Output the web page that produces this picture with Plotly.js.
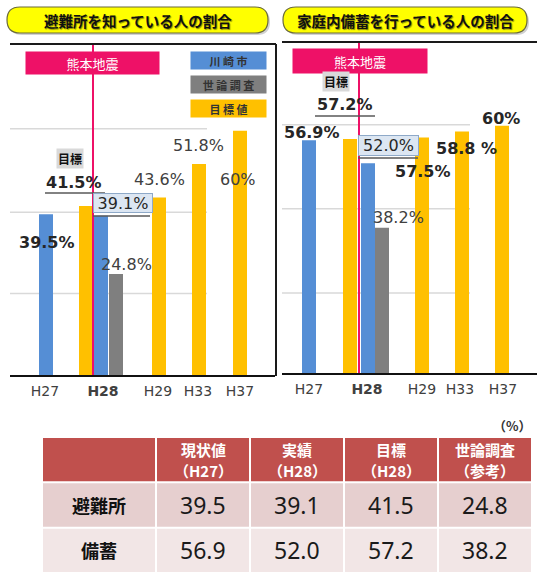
<!DOCTYPE html>
<html><head><meta charset="utf-8">
<script src="https://cdn.plot.ly/plotly-3.0.1.min.js"></script>
<style>html,body{margin:0;padding:0;background:#fff;}</style>
</head><body><div id="chart" style="width:537px;height:572px;"></div>
<script>
// ---------- DATA ----------
const years = ['H27','H28','H29','H33','H37'];
const chartTitles = ['避難所を知っている人の割合','家庭内備蓄を行っている人の割合'];
const legendNames = ['川崎市','世論調査','目標値'];
// 避難所を知っている人の割合 (%)
const shelterActual = [39.5, 39.1];            // 川崎市 H27, H28
const shelterSurvey = [24.8];                  // 世論調査 H28
const shelterTarget = [41.5, 43.6, 51.8, 60];  // 目標値 H28, H29, H33, H37
// 家庭内備蓄を行っている人の割合 (%)
const stockActual = [56.9, 52.0];
const stockSurvey = [38.2];
const stockTarget = [57.2, 57.5, 58.8, 60];
const eventLabel = '熊本地震';
const targetTag = '目標';
const tableHeaders = [['現状値','（H27）'],['実績','（H28）'],['目標','（H28）'],['世論調査','（参考）']];
const rowNames = ['避難所','備蓄'];
const unitLabel = '（%）';

// ---------- LAYOUT HELPERS ----------
const W = 537, H = 572;
const px = x => x / W;
const py = y => 1 - y / H;
const fmt = v => (v % 10 === 0 ? String(v) : v.toFixed(1)) + '%';
const BLUE = '#558ED5', GRAY = '#7F7F7F', ORANGE = '#FFC000';
const RED = '#EE1167';
const LBL = '#404040';
const NUMFONT = 'DejaVu Sans';
const JP = 'Noto Sans CJK JP';

const panels = [
  {xa:'x', ya:'y', left:10, right:275, top:44, bottom:375, yr:[0,81.3], xr:265,
   pos:{actual:[36,91], survey:[106], target:[76,149,189,230]}, ticks:[35,93,148,188,230],
   grid:[20,40,60.5], gridEnd:207, quake:93,
   data:{actual:shelterActual, survey:shelterSurvey, target:shelterTarget}},
  {xa:'x2', ya:'y2', left:282, right:537, top:42, bottom:373, yr:[7.2,77.9], xr:255,
   pos:{actual:[27,86], survey:[100], target:[68,140,180,220]}, ticks:[27,85,140,178,221],
   grid:[24.3,42.3,60.2], gridEnd:470, quake:359,
   data:{actual:stockActual, survey:stockSurvey, target:stockTarget}}
];

const traces = [];
const shapes = [];
const annotations = [];
const layout = {
  width: W, height: H, margin:{l:0,r:0,t:0,b:0},
  paper_bgcolor:'#fff', plot_bgcolor:'rgba(0,0,0,0)',
  showlegend:false, barmode:'overlay', font:{family:NUMFONT}
};

panels.forEach((p, i) => {
  const sfx = i === 0 ? '' : '2';
  const tickText = years.map(t => t === 'H28' ? '<b>' + t + '</b>' : t);
  layout['xaxis' + sfx] = {
    domain:[px(p.left), px(p.right)], range:[0, p.xr], anchor:p.ya,
    tickmode:'array', tickvals:p.ticks, ticktext:tickText,
    tickfont:{size:14, color:LBL, family:NUMFONT}, ticks:'', ticklabelstandoff:2,
    showline:true, linecolor:'#111', linewidth:2, showgrid:false, zeroline:false, fixedrange:true
  };
  layout['yaxis' + sfx] = {
    domain:[py(p.bottom), py(p.top)], range:p.yr, anchor:p.xa,
    visible:false, showgrid:false, zeroline:false, fixedrange:true
  };
  const series = [['actual', BLUE], ['survey', GRAY], ['target', ORANGE]];
  series.forEach(([k, c]) => {
    traces.push({type:'bar', x:p.pos[k], y:p.data[k], width:14, xaxis:p.xa, yaxis:p.ya,
      marker:{color:c, line:{width:0}}, hoverinfo:'skip'});
  });
  p.grid.forEach(g => shapes.push({type:'line', layer:'below', xref:'paper', yref:p.ya,
    x0:px(p.left), x1:px(p.gridEnd), y0:g, y1:g, line:{color:'#D9D9D9', width:1.5}}));
  shapes.push({type:'line', xref:'paper', yref:'paper', x0:px(p.quake), x1:px(p.quake),
    y0:py(p.top), y1:py(p.bottom), line:{color:RED, width:2}});
});

// panel borders
shapes.push({type:'line', xref:'paper', yref:'paper', x0:px(10), x1:px(276), y0:py(44), y1:py(44), line:{color:'#1a1a1a', width:2}});
shapes.push({type:'line', xref:'paper', yref:'paper', x0:px(276), x1:px(276), y0:py(44), y1:py(376), line:{color:'#1a1a1a', width:2}});
shapes.push({type:'line', xref:'paper', yref:'paper', x0:px(282), x1:px(537), y0:py(42), y1:py(42), line:{color:'#1a1a1a', width:2}});

// title pills
function pill(x0, y0, x1, y1, fill, line) {
  const r = (y1 - y0) / 2;
  const P = (x, y) => px(x).toFixed(5) + ',' + py(y).toFixed(5);
  const path = 'M' + P(x0 + r, y0) + ' L' + P(x1 - r, y0) + ' Q' + P(x1, y0) + ' ' + P(x1, y0 + r) +
    ' Q' + P(x1, y1) + ' ' + P(x1 - r, y1) + ' L' + P(x0 + r, y1) + ' Q' + P(x0, y1) + ' ' + P(x0, y0 + r) +
    ' Q' + P(x0, y0) + ' ' + P(x0 + r, y0) + ' Z';
  return {type:'path', xref:'paper', yref:'paper', path:path, fillcolor:fill, line:line};
}
[[7,268],[283,527]].forEach(([a, b], i) => {
  shapes.push(pill(a + 2, 9, b + 2, 35, 'rgba(0,0,0,0.18)', {width:0}));
  shapes.push(pill(a, 7, b, 33, '#FFFF00', {color:'#6b6b3a', width:1.2}));
  annotations.push({xref:'paper', yref:'paper', x:px((a + b) / 2), y:py(20.5), xanchor:'center', yanchor:'middle',
    showarrow:false, text:'<b>' + chartTitles[i] + '</b>',
    font:{family:JP, size:14.5, color:'#111', shadow:'1px 1px 1px rgba(0,0,0,0.45)'}});
});

function ann(text, x, y, o) {
  o = o || {};
  annotations.push(Object.assign({xref:'paper', yref:'paper', x:px(x), y:py(y), xanchor:'center', yanchor:'middle',
    showarrow:false, text:text, font:{family:NUMFONT, size:16, color:LBL}}, o));
}
function uline(x0, x1, y) {
  shapes.push({type:'line', xref:'paper', yref:'paper', x0:px(x0), x1:px(x1), y0:py(y), y1:py(y), line:{color:'#595959', width:1.5}});
}
const bold = s => '<b>' + s + '</b>';
const boldFont = {family:NUMFONT, size:16, color:'#262626'};

// quake label boxes
ann(eventLabel, 92.5, 63, {width:131, height:20, bgcolor:RED, font:{family:JP, size:13, color:'#fff'}});
ann(eventLabel, 360, 61, {width:132, height:22, bgcolor:RED, font:{family:JP, size:13, color:'#fff'}});

// legend boxes (left panel)
const legendStyle = [[BLUE, 60], [GRAY, 84], [ORANGE, 109]];
legendNames.forEach((n, i) => {
  ann(bold(n.split('').join(' ')), 228.5, legendStyle[i][1], {width:73, height:15, bgcolor:legendStyle[i][0],
    font:{family:JP, size:11, color:'#333'}});
});

// left panel value labels
ann(bold(fmt(shelterActual[0])), 47, 243, {font:boldFont});
ann(bold(targetTag), 70, 159, {bgcolor:'#D9D9D9', font:{family:JP, size:12, color:'#111'}});
ann(bold(fmt(shelterTarget[0])), 74, 182.5, {font:boldFont});
uline(45, 105, 193);
ann(fmt(shelterActual[1]), 122.5, 203, {width:58, height:18, bgcolor:'#DCE6F2', bordercolor:'#8EA9C8', borderwidth:1, borderpad:0, font:{family:NUMFONT, size:16, color:'#262626'}});
uline(93, 150, 216);
ann(fmt(shelterSurvey[0]), 126, 264);
ann(fmt(shelterTarget[1]), 159, 179);
ann(fmt(shelterTarget[2]), 198, 146);
ann(fmt(shelterTarget[3]), 238, 179);

// right panel value labels
ann(bold(targetTag), 336, 82, {bgcolor:'#D9D9D9', font:{family:JP, size:12, color:'#111'}});
ann(bold(fmt(stockTarget[0])), 345, 104, {font:boldFont});
uline(315, 375, 116);
ann(bold(fmt(stockActual[0])), 312, 132, {font:boldFont});
ann(fmt(stockActual[1]), 388.5, 145.5, {width:59, height:19, bgcolor:'#DCE6F2', bordercolor:'#8EA9C8', borderwidth:1, borderpad:0, font:{family:NUMFONT, size:16, color:'#262626'}});
uline(358, 418, 158);
ann(bold(fmt(stockTarget[1])), 423, 172, {font:boldFont});
ann(bold(fmt(stockTarget[2]).replace('%', ' %')), 466, 148, {font:boldFont});
ann(bold(fmt(stockTarget[3])), 501, 119, {font:boldFont});
ann(fmt(stockSurvey[0]), 398, 218);

// unit label
ann(bold(unitLabel), 512, 425, {font:{family:JP, size:13, color:'#333'}});

// ---------- TABLE (cells on their own axes) ----------
const colWidths = [114, 94, 94, 94, 94];
const colStart = colWidths.map((w, i) => colWidths.slice(0, i).reduce((a, b) => a + b, 0));
const tableW = colWidths.reduce((a, b) => a + b, 0);
const tableTop = 436, tableBottom = 572;
const rowPx = (tableBottom - tableTop) / 3;
layout.xaxis3 = {domain:[px(41), px(41 + tableW + 2)], range:[0, tableW + 2], visible:false, fixedrange:true, anchor:'y3'};
layout.yaxis3 = {domain:[py(tableBottom), py(tableTop)], range:[3, 0], visible:false, fixedrange:true, anchor:'x3'};
const f1 = v => v.toFixed(1);
const bodyRows = [
  [rowNames[0], f1(shelterActual[0]), f1(shelterActual[1]), f1(shelterTarget[0]), f1(shelterSurvey[0])],
  [rowNames[1], f1(stockActual[0]), f1(stockActual[1]), f1(stockTarget[0]), f1(stockSurvey[0])]
];
const headerRow = [null].concat(tableHeaders);
const rowFill = ['#C0504D', '#E6CFCF', '#F2E6E6'];
const gapX = 2, gapY = 2 / rowPx;
const lineOff = 10.5 / rowPx;  // half distance between header lines
[headerRow].concat(bodyRows).forEach((row, r) => {
  row.forEach((txt, c) => {
    shapes.push({type:'rect', layer:'below', xref:'x3', yref:'y3',
      x0:colStart[c] + gapX, x1:colStart[c] + colWidths[c], y0:r + gapY, y1:r + 1,
      fillcolor:rowFill[r], line:{width:0}});
    if (txt === null) return;
    const cx = colStart[c] + gapX / 2 + colWidths[c] / 2;
    const cy = r + 0.5 + gapY / 2;
    if (r === 0) {
      txt.forEach((line, k) => annotations.push({xref:'x3', yref:'y3', x:cx, y:cy + (k === 0 ? -lineOff : lineOff),
        xanchor:'center', yanchor:'middle', showarrow:false, text:bold(line),
        font:{family:JP, size:15, color:'#fff'}}));
      return;
    }
    const font = c === 0 ? {family:JP, size:18, color:'#111'} : {family:'Noto Sans', size:23, color:'#1a1a1a'};
    annotations.push({xref:'x3', yref:'y3', x:cx, y:cy, xanchor:'center', yanchor:'middle', showarrow:false,
      text:c === 0 ? bold(txt) : txt, font:font});
  });
});
// invisible anchor trace for table axes
traces.push({type:'scatter', x:colStart.map((s, i) => s + colWidths[i] / 2), y:[0.5, 0.5, 0.5, 0.5, 0.5],
  xaxis:'x3', yaxis:'y3', mode:'markers', marker:{opacity:0}, hoverinfo:'skip'});

layout.shapes = shapes;
layout.annotations = annotations;
Plotly.newPlot('chart', traces, layout, {displayModeBar:false, staticPlot:true});
</script></body></html>
